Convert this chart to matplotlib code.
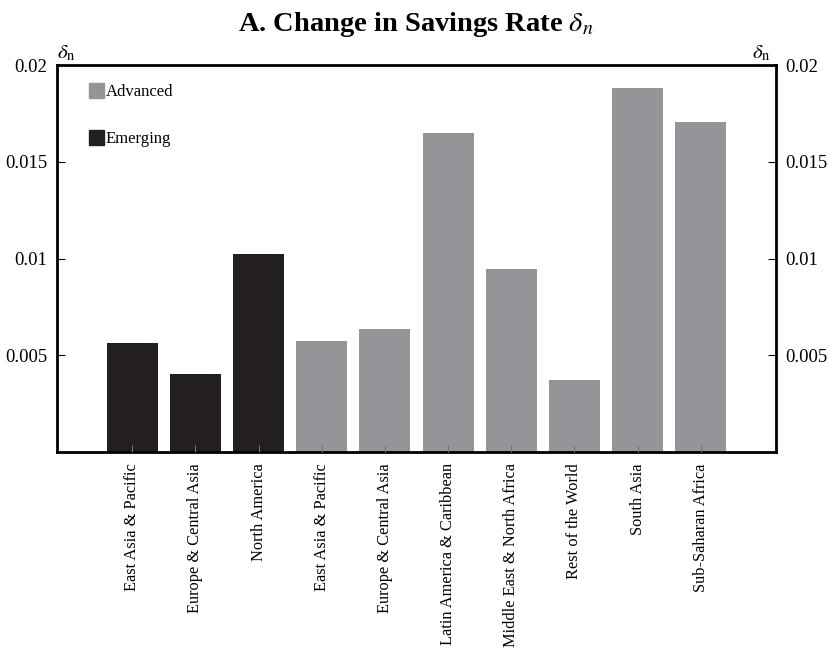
import matplotlib
matplotlib.use("Agg")
import matplotlib.pyplot as plt
from matplotlib.patches import Patch

regions = ["East Asia & Pacific", "Europe & Central Asia", "North America",
           "East Asia & Pacific", "Europe & Central Asia", "Latin America & Caribbean",
           "Middle East & North Africa", "Rest of the World", "South Asia",
           "Sub-Saharan Africa"]
groups = ["Emerging", "Emerging", "Emerging", "Advanced", "Advanced", "Advanced",
          "Advanced", "Advanced", "Advanced", "Advanced"]
delta_n = [0.00562, 0.00402, 0.01023, 0.00572, 0.00634, 0.01649,
           0.00946, 0.00372, 0.01880, 0.01707]
yticks = [0.005, 0.01, 0.015, 0.02]
ytick_labels = ["0.005", "0.01", "0.015", "0.02"]

colors = {"Advanced": "#939598", "Emerging": "#231f20"}

plt.rcParams["font.family"] = ["Liberation Serif", "DejaVu Serif"]
plt.rcParams["mathtext.fontset"] = "stix"

fig = plt.figure(figsize=(8.32, 6.49), dpi=100)
ax = fig.add_axes([0.0685, 0.3035, 0.8642, 0.5963])

x = list(range(len(regions)))
ax.bar(x, delta_n, width=0.81, color=[colors[g] for g in groups], zorder=1)

ax.set_xlim(-1.19, len(regions) - 1 + 1.19)
ax.set_ylim(0, 0.02)
ax.set_xticks(x)
ax.set_xticklabels(regions, rotation=90, fontsize=11.8)
ax.tick_params(axis="x", direction="in", length=5, width=0.8, color="#777777", pad=8)
ax.set_yticks(yticks)
ax.set_yticklabels(ytick_labels, fontsize=13.5)
ax.tick_params(axis="y", direction="in", length=6, width=0.8, labelright=True, right=True, pad=7)
for s in ax.spines.values():
    s.set_linewidth(2)
ax.set_axisbelow(False)

ax.legend(handles=[Patch(color=colors["Advanced"], label="Advanced"),
                   Patch(color=colors["Emerging"], label="Emerging")],
          loc="upper left", bbox_to_anchor=(0.035, 0.97), frameon=False,
          fontsize=12, handlelength=0.9, handleheight=1.0, handletextpad=0.1,
          labelspacing=1.75, borderaxespad=0)

fig.text(0.0685, 0.902, r"$\delta_{\mathrm{n}}$", fontsize=15, ha="left", va="bottom")
fig.text(0.9327 - 0.006, 0.902, r"$\delta_{\mathrm{n}}$", fontsize=15, ha="right", va="bottom")
fig.text(0.5, 0.962, r"A. Change in Savings Rate $\delta_{n}$", fontsize=20.5,
         fontweight="bold", ha="center", va="center")

fig.savefig("out.png", dpi=100)
